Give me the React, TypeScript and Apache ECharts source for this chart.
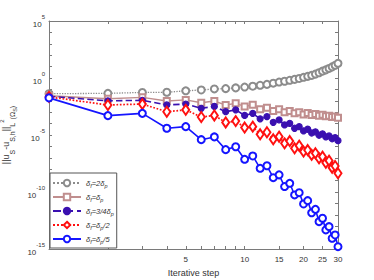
import React, { useEffect, useRef } from 'react';
import * as echarts from 'echarts';

const steps = [1,2,3,4,5,6,7,8,9,10,11,12,13,14,15,16,17,18,19,20,21,22,23,24,25,26,27,28,29,30];
const seriesNames = ['df2dp', 'dfdp', 'df34dp', 'dfdp2', 'dfdp5'];
const legendLabels: Record<string, string> = {
  df2dp: '{i|δ}{s|f}{i|=2δ}{s|p}',
  dfdp: '{i|δ}{s|f}{i|=δ}{s|p}',
  df34dp: '{i|δ}{s|f}{i|=3/4δ}{s|p}',
  dfdp2: '{i|δ}{s|f}{i|=δ}{s|p}{i|/2}',
  dfdp5: '{i|δ}{s|f}{i|=δ}{s|p}{i|/5}',
};
const v2dp = [4.2e-2,4.5e-2,5.4e-2,5.6e-2,7.5e-2,8.9e-2,1.1e-1,1.18e-1,1.35e-1,1.6e-1,1.9e-1,2.3e-1,2.75e-1,3.5e-1,4.4e-1,5.2e-1,6.3e-1,7.6e-1,9.1e-1,1.15,1.4,1.7,2.2,2.9,4.0,5.2,6.9,9.5,13,19.5];
const vdp = [2.8e-2,1.5e-2,2.0e-2,9.5e-3,1.2e-2,6.8e-3,9.5e-3,4.3e-3,6.0e-3,3.2e-3,4.5e-3,1.8e-3,2.4e-3,1.26e-3,1.8e-3,1.0e-3,1.3e-3,7.9e-4,1.0e-3,6.3e-4,8.3e-4,5.6e-4,6.8e-4,5.0e-4,6.0e-4,4.5e-4,5.0e-4,3.8e-4,4.2e-4,3.2e-4];
const v34dp = [2.5e-2,1.0e-2,1.1e-2,4.3e-3,5.2e-3,2.2e-3,3.2e-3,1.1e-3,1.6e-3,5.2e-4,7.9e-4,2.6e-4,4.1e-4,1.3e-4,2.1e-4,7.6e-5,1.07e-4,3.9e-5,5.4e-5,2.3e-5,3.2e-5,1.5e-5,1.9e-5,9.5e-6,1.26e-5,6.8e-6,8.3e-6,4.7e-6,5.9e-6,3.2e-6];
const vdp2 = [2.2e-2,4.3e-3,5.2e-3,1.1e-3,1.6e-3,3.8e-4,5.2e-4,1.26e-4,1.66e-4,4.5e-5,5.4e-5,1.15e-5,1.74e-5,4.2e-6,7.1e-6,1.86e-6,2.95e-6,6.8e-7,1.15e-6,3.5e-7,4.8e-7,1.8e-7,2.5e-7,9.1e-8,1.26e-7,3.7e-8,5.6e-8,1.35e-8,1.9e-8,4.4e-9];
const vdp5 = [1.8e-2,5.0e-4,7.9e-4,3.9e-5,5.4e-5,3.9e-6,6.8e-6,5.2e-7,9.3e-7,7.4e-8,1.45e-7,1.2e-8,2.0e-8,1.8e-9,3.2e-9,3.0e-10,5.8e-10,5.5e-11,8.7e-11,8.9e-12,1.74e-11,1.5e-12,3.0e-12,2.5e-13,5.0e-13,4.7e-14,9.1e-14,8.7e-15,1.7e-14,1.6e-15];
const xTickLabels = [5, 10, 15, 20, 25, 30];
const xTicks = [1, 2, 3, 4, 5, 6, 7, 8, 9, 10, 15, 20, 25, 30];
const yTickLabels = [1e-15, 1e-10, 1e-5, 1, 1e5];
const yTicks = [1e-15,1e-14,1e-13,1e-12,1e-11,1e-10,1e-9,1e-8,1e-7,1e-6,1e-5,1e-4,1e-3,1e-2,1e-1,1,1e1,1e2,1e3,1e4,1e5];

const FONT = 'Liberation Sans';

export default function App() {
  const ref = useRef<HTMLDivElement>(null);
  useEffect(() => {
    const chart = echarts.init(ref.current!, null, { renderer: 'svg' });
    const mk = (arr: number[]) => steps.map((s, i) => [s, arr[i]]);
    const cfg = [
      { data: v2dp, color: '#8c8c8c', type: 'dotted', width: 1.3, symbol: 'emptyCircle', size: 7 },
      { data: vdp, color: '#c08e8e', type: 'solid', width: 1.4, symbol: 'emptyRect', size: 6 },
      { data: v34dp, color: '#3a10b0', type: 'dashed', width: 1.6, symbol: 'circle', size: 6 },
      { data: vdp2, color: '#ff1010', type: 'dotted', width: 1.7, symbol: 'emptyDiamond', size: [7, 10] },
      { data: vdp5, color: '#1515ff', type: 'solid', width: 1.6, symbol: 'emptyCircle', size: 7 },
    ];
    const axisLineColor = '#7a7a7a';
    const labelColor = '#333';
    const xBase = {
      type: 'log',
      logBase: 10,
      min: 1,
      max: 30,
      axisLine: { show: true, lineStyle: { color: axisLineColor, width: 1 } },
      axisTick: { show: true, inside: true, length: 3, customValues: xTicks, lineStyle: { color: axisLineColor } },
      splitLine: { show: false },
      minorTick: { show: false },
    };
    const yBase = {
      type: 'log',
      logBase: 10,
      min: 1e-15,
      max: 1e5,
      axisLine: { show: true, lineStyle: { color: axisLineColor, width: 1 } },
      axisTick: { show: true, inside: true, length: 3, customValues: yTicks, lineStyle: { color: axisLineColor } },
      splitLine: { show: false },
      minorTick: { show: false },
    };
    chart.setOption({
      animation: false,
      backgroundColor: '#fff',
      textStyle: { fontFamily: FONT },
      grid: { left: 49, right: 36, top: 21, bottom: 31, containLabel: false, outerBoundsMode: 'none' },
      xAxis: [
        {
          ...xBase,
          position: 'bottom',
          name: 'Iterative step',
          nameLocation: 'middle',
          nameGap: 19,
          nameTextStyle: { fontSize: 9, color: labelColor, fontFamily: FONT },
          axisLabel: { show: true, customValues: xTickLabels, fontSize: 8, color: labelColor, margin: 6, fontFamily: FONT },
        },
        { ...xBase, position: 'top', axisLabel: { show: false } },
      ],
      yAxis: [
        {
          ...yBase,
          position: 'left',
          name: '||u{s|S}-u{s|S,h}||{s|L}{p|2}{s|(Ω}{ss|S}{s|)}',
          nameLocation: 'middle',
          nameRotate: 90,
          nameGap: 36,
          nameMoveOverlap: false,
          nameTextStyle: {
            fontSize: 9, color: labelColor, fontFamily: FONT,
            rich: {
              s: { fontSize: 7, verticalAlign: 'bottom', lineHeight: 14, padding: [0, 0, -3, 0] },
              p: { fontSize: 6, verticalAlign: 'top', lineHeight: 14 },
              ss: { fontSize: 5.5, verticalAlign: 'bottom', lineHeight: 14, padding: [0, 0, -5, 0] },
            },
          },
          axisLabel: {
            show: true, customValues: yTickLabels, fontSize: 8, color: labelColor, margin: 4, fontFamily: FONT,
            hideOverlap: false,
            formatter: (v: number) => {
              const e = Math.round(Math.log10(v));
              return `{b|10}{e|${e}}`;
            },
            rich: {
              b: { fontSize: 8, color: labelColor, verticalAlign: 'bottom', lineHeight: 15 },
              e: { fontSize: 6, color: labelColor, verticalAlign: 'top', lineHeight: 15 },
            },
          },
        },
        { ...yBase, position: 'right', axisLabel: { show: false } },
      ],
      legend: {
        show: true,
        left: 50,
        top: 173,
        orient: 'vertical',
        padding: [4, 3, 3, 2],
        itemGap: 2,
        itemWidth: 28,
        itemHeight: 8,
        borderColor: '#555',
        borderWidth: 1,
        borderRadius: 0,
        backgroundColor: '#fff',
        data: seriesNames,
        formatter: (n: string) => legendLabels[n],
        textStyle: {
          fontSize: 7.5, color: labelColor, fontFamily: FONT, lineHeight: 12,
          rich: {
            i: { fontSize: 7.5, fontStyle: 'italic', color: labelColor, lineHeight: 12 },
            s: { fontSize: 5.5, fontStyle: 'italic', color: labelColor, verticalAlign: 'bottom', lineHeight: 12 },
          },
        },
      },
      series: cfg.map((c, i) => ({
        name: seriesNames[i],
        type: 'line',
        data: mk(c.data),
        xAxisIndex: 0,
        yAxisIndex: 0,
        symbol: c.symbol,
        symbolSize: c.size,
        showAllSymbol: true,
        lineStyle: { color: c.color, width: c.width, type: c.type },
        itemStyle: { color: c.color, borderColor: c.color, borderWidth: 1.2 },
        emphasis: { disabled: true },
        z: 2 + i,
      })),
    });
    return () => chart.dispose();
  }, []);
  return <div ref={ref} style={{ position: 'absolute', left: 0, top: 0, width: 374, height: 280 }} />;
}
